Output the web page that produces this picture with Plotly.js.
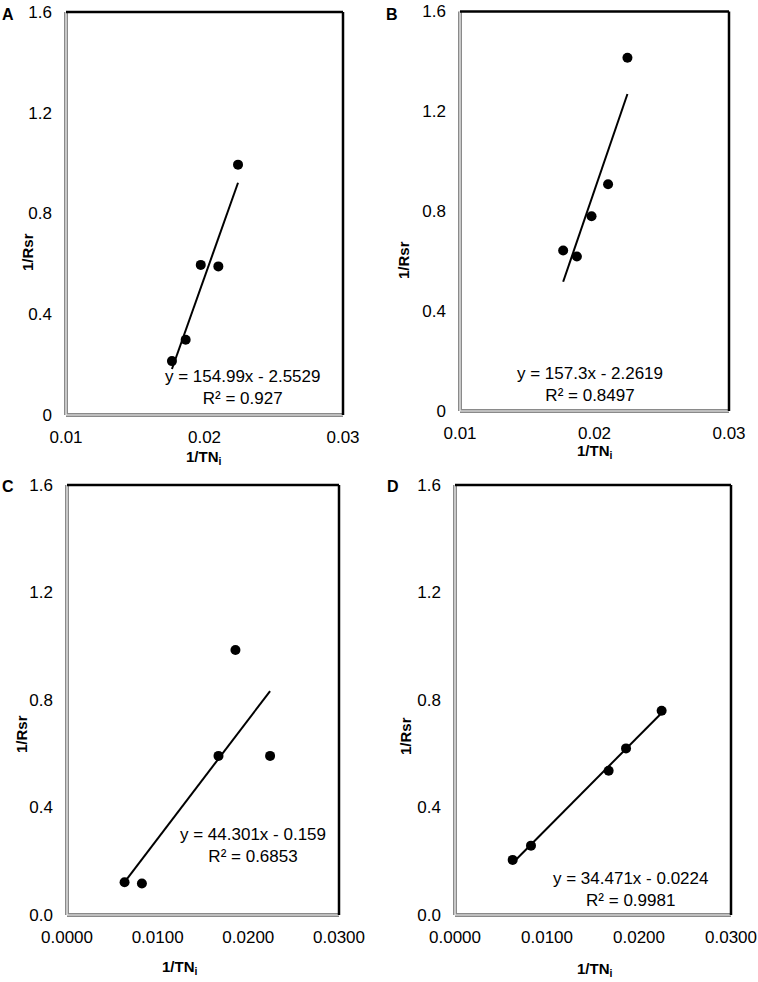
<!DOCTYPE html>
<html>
<head>
<meta charset="utf-8">
<script src="https://cdn.plot.ly/plotly-3.0.1.min.js"></script>
<style>
  html, body { margin: 0; padding: 0; background: #fff; }
  #chart { width: 758px; height: 982px; }
</style>
</head>
<body>
<div id="chart"></div>
<script>
// points, one pair of arrays per panel
const xA = [0.01765, 0.01864, 0.01973, 0.0210, 0.02242];
const yA = [0.214, 0.299, 0.596, 0.590, 0.994];
const xB = [0.01767, 0.01869, 0.01978, 0.02101, 0.02245];
const yB = [0.643, 0.619, 0.780, 0.908, 1.415];
const xC = [0.00635, 0.00826, 0.01671, 0.01858, 0.0224];
const yC = [0.122, 0.117, 0.592, 0.986, 0.592];
const xD = [0.00627, 0.00826, 0.0167, 0.01859, 0.02246];
const yD = [0.205, 0.258, 0.537, 0.620, 0.760];

// printed trend line equations
const slopes = [154.99, 157.3, 44.301, 34.471];
const intercepts = [-2.5529, -2.2619, -0.159, -0.0224];
const r2 = ['0.927', '0.8497', '0.6853', '0.9981'];
const eqText = ['y = 154.99x - 2.5529', 'y = 157.3x - 2.2619', 'y = 44.301x - 0.159', 'y = 34.471x - 0.0224'];

const panelLetters = ['A', 'B', 'C', 'D'];
const yTicks = [0, 0.4, 0.8, 1.2, 1.6];
const xTicksAB = [0.01, 0.02, 0.03];
const xTicksCD = [0, 0.01, 0.02, 0.03];

const W = 758, H = 982;
const FONT = 'Liberation Sans, Arial, sans-serif';

// plot boxes in pixels: [left, right, top, bottom]
const boxes = [
  [66, 343, 12, 415],
  [460, 729, 11.5, 411],
  [67, 339, 485, 915],
  [455, 731, 485, 915]
];
const xs = [xA, xB, xC, xD];
const ys = [yA, yB, yC, yD];

// label positions in pixels
const eqPos = [[242, 387], [590, 385], [253, 845], [630, 889]];
const letterPos = [[8, 15], [392, 15], [8, 487], [393, 487]];
const yTitlePos = [[27, 252], [403, 260], [21, 734], [405, 736]];
const xTitlePos = [[204, 457], [595, 451], [180, 967], [595, 969]];

function px(x) { return x / W; }
function py(y) { return 1 - y / H; }

let data = [];
let layout = {
  width: W, height: H,
  margin: { l: 0, r: 0, t: 0, b: 0 },
  paper_bgcolor: '#fff', plot_bgcolor: '#fff',
  showlegend: false,
  font: { family: FONT, size: 17, color: '#000' },
  shapes: [],
  annotations: []
};

for (let i = 0; i < 4; i++) {
  let n = i === 0 ? '' : String(i + 1);
  let xa = 'x' + n, ya = 'y' + n;
  let b = boxes[i];

  let xmin = Math.min(...xs[i]), xmax = Math.max(...xs[i]);
  data.push({
    x: [xmin, xmax],
    y: [slopes[i] * xmin + intercepts[i], slopes[i] * xmax + intercepts[i]],
    xaxis: xa, yaxis: ya,
    mode: 'lines', line: { color: '#000', width: 2 },
    hoverinfo: 'skip'
  });
  data.push({
    x: xs[i], y: ys[i],
    xaxis: xa, yaxis: ya,
    mode: 'markers', marker: { color: '#000', size: 10 }
  });

  let cd = i >= 2;
  layout['xaxis' + n] = {
    domain: [px(b[0]), px(b[1])],
    range: cd ? [0, 0.03] : [0.01, 0.03],
    anchor: ya,
    tickvals: cd ? xTicksCD : xTicksAB,
    tickformat: cd ? '.4f' : '',
    showgrid: false, zeroline: false, showline: false, ticks: '',
    ticklabelstandoff: 10,
    tickfont: { size: 17 }
  };
  layout['yaxis' + n] = {
    domain: [py(b[3]), py(b[2])],
    range: [0, 1.6],
    anchor: xa,
    tickvals: yTicks,
    tickformat: cd ? '.1f' : '',
    showgrid: false, zeroline: false, showline: false, ticks: '',
    ticklabelstandoff: 13,
    tickfont: { size: 17 }
  };

  // frame: grey double line left/bottom, black top/right
  let xr = xa + ' domain', yr = ya + ' domain';
  layout.shapes.push(
    { type: 'line', xref: xr, yref: yr, x0: 0, x1: 0, y0: 0, y1: 1, line: { color: '#8a8a8a', width: 4 } },
    { type: 'line', xref: xr, yref: yr, x0: 0, x1: 1, y0: 0, y1: 0, line: { color: '#8a8a8a', width: 4 } },
    { type: 'line', xref: xr, yref: yr, x0: 0, x1: 0, y0: 0, y1: 1, line: { color: '#f2f2f2', width: 1.2 } },
    { type: 'line', xref: xr, yref: yr, x0: 0, x1: 1, y0: 0, y1: 0, line: { color: '#f2f2f2', width: 1.2 } },
    { type: 'line', xref: xr, yref: yr, x0: 0, x1: 1, y0: 1, y1: 1, line: { color: '#000', width: 2.5 } },
    { type: 'line', xref: xr, yref: yr, x0: 1, x1: 1, y0: 0, y1: 1, line: { color: '#000', width: 2.5 } }
  );

  layout.annotations.push(
    {
      xref: 'paper', yref: 'paper', x: px(eqPos[i][0]), y: py(eqPos[i][1]),
      xanchor: 'center', yanchor: 'middle', showarrow: false, align: 'center',
      text: eqText[i] + '<br>R² = ' + r2[i], font: { size: 17 }
    },
    {
      xref: 'paper', yref: 'paper', x: px(letterPos[i][0]), y: py(letterPos[i][1]),
      xanchor: 'center', yanchor: 'middle', showarrow: false,
      text: '<b>' + panelLetters[i] + '</b>', font: { size: 16 }
    },
    {
      xref: 'paper', yref: 'paper', x: px(yTitlePos[i][0]), y: py(yTitlePos[i][1]),
      xanchor: 'center', yanchor: 'middle', showarrow: false, textangle: -90,
      text: '<b>1/Rsr</b>', font: { size: 15 }
    },
    {
      xref: 'paper', yref: 'paper', x: px(xTitlePos[i][0]), y: py(xTitlePos[i][1]),
      xanchor: 'center', yanchor: 'middle', showarrow: false,
      text: '<b>1/TN<sub>i</sub></b>', font: { size: 15 }
    }
  );
}

Plotly.newPlot('chart', data, layout, { displayModeBar: false, staticPlot: true });
</script>
</body>
</html>
